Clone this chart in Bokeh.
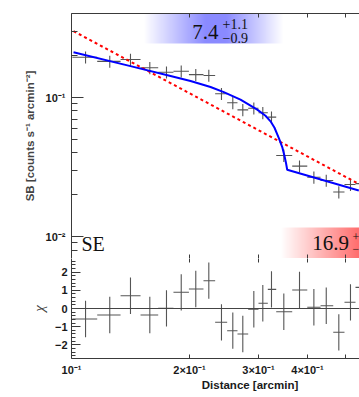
import numpy as np
from bokeh.plotting import figure
from bokeh.layouts import column
from bokeh.models import ColumnDataSource, FixedTicker, LogAxis, LinearAxis, Label, Span
from bokeh.embed import file_html
from bokeh.resources import INLINE

# ---------------- data ----------------
r_mid = [0.1086, 0.1252, 0.1414, 0.1584, 0.1747, 0.1905, 0.2075, 0.2240, 0.2413, 0.2579, 0.2735,
         0.2918, 0.3076, 0.3237, 0.3480, 0.3816, 0.4152, 0.4465, 0.4807, 0.5148, 0.5500]
r_lo = [0.1005, 0.1163, 0.1334, 0.1500, 0.1664, 0.1820, 0.1993, 0.2171, 0.2325, 0.2495, 0.2651,
        0.2823, 0.2999, 0.3168, 0.3328, 0.3656, 0.3994, 0.4318, 0.4652, 0.4970, 0.5302]
r_hi = [0.1163, 0.1334, 0.1500, 0.1664, 0.1820, 0.1993, 0.2171, 0.2325, 0.2495, 0.2651, 0.2823,
        0.2999, 0.3168, 0.3328, 0.3656, 0.3994, 0.4318, 0.4652, 0.4970, 0.5302, 0.5700]
sb = [0.195, 0.182, 0.1876, 0.1637, 0.152, 0.1545, 0.146, 0.144, 0.1065, 0.0916, 0.0815,
      0.0838, 0.0776, 0.0722, 0.0383, 0.0321, 0.0267, 0.0253, 0.0209, 0.0237, 0.0240]
sb_err = [0.0195, 0.0180, 0.0190, 0.0165, 0.0150, 0.0155, 0.0146, 0.0144, 0.0107, 0.0092, 0.0082,
          0.0084, 0.0078, 0.0072, 0.0039, 0.0032, 0.0027, 0.0025, 0.0021, 0.0024, 0.0024]
chi = [-0.58, -0.36, 0.70, -0.36, 0.01, 0.89, 1.07, 1.53, -0.76, -1.22, -1.40,
       -0.04, 0.29, 1.05, -0.18, 1.02, 0.07, 0.15, -1.31, 0.34, 1.16]
chi_err = [1.0, 1.0, 1.0, 1.0, 1.0, 1.0, 1.0, 1.0, 1.0, 1.0, 1.0,
           1.0, 1.0, 1.0, 1.0, 1.0, 1.0, 1.0, 1.0, 1.0, 1.0]
model_r = [0.1012, 0.1414, 0.1789, 0.2012, 0.2263, 0.2446, 0.2698, 0.2977, 0.3125, 0.3219,
           0.3295, 0.3380, 0.3448, 0.3494, 0.3525, 0.3550, 0.5406]
model_sb = [0.2118, 0.1682, 0.1428, 0.1314, 0.1190, 0.1094, 0.0966, 0.0818, 0.0739, 0.0674,
            0.0606, 0.0511, 0.0440, 0.0380, 0.0338, 0.0302, 0.0214]
pl_r = [0.1012, 0.5406]
pl_sb = [0.300, 0.0239]

x_ticks = [0.1, 0.2, 0.3, 0.4, 0.5]
x_tick_labels = ["10⁻¹", "2×10⁻¹", "3×10⁻¹", "4×10⁻¹", ""]
sb_ticks = [0.01, 0.1]
sb_tick_labels = ["10⁻²", "10⁻¹"]
sb_minor = [0.007, 0.008, 0.009, 0.02, 0.03, 0.04, 0.05, 0.06, 0.07, 0.08, 0.09, 0.2, 0.3, 0.4]
chi_ticks = [-2, -1, 0, 1, 2]
chi_tick_labels = ["−2", "−1", "0", "1", "2"]

# ---------------- layout constants ----------------
XMIN, XMAX = 0.1, 0.5428
Y1MIN, Y1MAX = 0.00695, 0.402
Y2MIN, Y2MAX = -2.75, 2.75
FW, FH1, FH2 = 288, 245, 100
LB = 71

AX = "#3a3a3a"
FONT = "Liberation Sans"
SERIF = "Liberation Serif"


def fx(px):
    lo, hi = np.log10(XMIN), np.log10(XMAX)
    return 10 ** (lo + np.asarray(px, dtype=float) / FW * (hi - lo))


def fy1(py):
    lo, hi = np.log10(Y1MIN), np.log10(Y1MAX)
    return 10 ** (hi - np.asarray(py, dtype=float) / FH1 * (hi - lo))


def style_axis(ax, tin, tmin=0, labels=True, line=True):
    ax.major_tick_in = tin
    ax.major_tick_out = 0
    ax.minor_tick_in = tmin
    ax.minor_tick_out = 0
    ax.axis_line_color = AX if line else None
    ax.axis_line_width = 1
    ax.major_tick_line_color = AX
    ax.minor_tick_line_color = AX
    if labels:
        ax.major_label_text_font = FONT
        ax.major_label_text_font_style = "bold"
        ax.major_label_text_font_size = "11px"
        ax.major_label_text_color = "#1a1a1a"
    else:
        ax.major_label_text_font_size = "0px"
        ax.major_label_text_color = None
        ax.major_label_standoff = 0
        ax.axis_label = None


def gradient(alpha, rgb):
    n = len(alpha)
    img = np.zeros((1, n), dtype=np.uint32)
    v = img.view(dtype=np.uint8).reshape((1, n, 4))
    v[0, :, 0] = rgb[0]
    v[0, :, 1] = rgb[1]
    v[0, :, 2] = rgb[2]
    v[0, :, 3] = np.clip(np.asarray(alpha) * 255, 0, 255).astype(np.uint8)
    return img


# ---------------- top panel ----------------
p1 = figure(x_axis_type="log", y_axis_type="log", x_range=(XMIN, XMAX), y_range=(Y1MIN, Y1MAX),
            frame_width=FW, frame_height=FH1, min_border_left=LB, min_border_right=0,
            min_border_top=13, min_border_bottom=0, x_axis_location=None, y_axis_location=None,
            output_backend="svg", toolbar_location=None)
p1.outline_line_color = None
p1.xgrid.visible = False
p1.ygrid.visible = False

# gradient boxes behind the fitted jump values
bx = np.arange(72, 212) + 0.5
balpha = np.interp(bx, [72, 134, 155, 212], [0.0, 0.46, 0.46, 0.0])
p1.image_rgba(image=[gradient(balpha, (0, 0, 255))], x=float(fx(72)), y=float(fy1(30)),
              dw=float(fx(212) - fx(72)), dh=float(fy1(0) - fy1(30)))
rx = np.arange(209, 288) + 0.5
ralpha = np.interp(rx, [209, 288], [0.0, 0.58])
p1.image_rgba(image=[gradient(ralpha, (255, 0, 0))], x=float(fx(209)), y=float(fy1(245)),
              dw=float(fx(288) - fx(209)), dh=float(fy1(214) - fy1(245)))

src1 = ColumnDataSource(dict(x=r_mid, xl=r_lo, xh=r_hi, y=sb,
                             yl=np.array(sb) - np.array(sb_err), yh=np.array(sb) + np.array(sb_err)))
p1.segment(x0="xl", y0="y", x1="xh", y1="y", source=src1, line_color="#555555", line_width=1.1)
p1.segment(x0="x", y0="yl", x1="x", y1="yh", source=src1, line_color="#555555", line_width=1.1)
p1.line(pl_r, pl_sb, line_color="#ff0000", line_width=2, line_dash="3 3")
p1.line(model_r, model_sb, line_color="#0000ff", line_width=2)

ly = LogAxis(ticker=FixedTicker(ticks=sb_ticks, minor_ticks=sb_minor),
             major_label_overrides=dict(zip(sb_ticks, sb_tick_labels)))
style_axis(ly, 12, 6)
ly.major_label_standoff = 6
ly.axis_label = "SB [counts s⁻¹ arcmin⁻²]"
ly.axis_label_text_font = FONT
ly.axis_label_text_font_style = "bold"
ly.axis_label_text_font_size = "11.5px"
ly.axis_label_standoff = 7
p1.add_layout(ly, "left")

for loc in ("above", "below"):
    a = LogAxis(ticker=FixedTicker(ticks=x_ticks[1:], minor_ticks=[]))
    style_axis(a, 4, 0, labels=False)
    p1.add_layout(a, loc)

p1.add_layout(Label(x=float(fx(120.7)), y=FH1 - 18, y_units="screen", text="7.4",
                    text_font=SERIF, text_font_size="21px", text_color="#111111",
                    text_baseline="alphabetic"))
p1.add_layout(Label(x=float(fx(151)), y=FH1 - 10, y_units="screen", text="+1.1",
                    text_font=SERIF, text_font_size="14px", text_color="#111111",
                    text_baseline="middle"))
p1.add_layout(Label(x=float(fx(151)), y=FH1 - 24, y_units="screen", text="−0.9",
                    text_font=SERIF, text_font_size="14px", text_color="#111111",
                    text_baseline="middle"))
p1.add_layout(Label(x=float(fx(240.7)), y=FH1 - 229.5, y_units="screen", text="16.9",
                    text_font=SERIF, text_font_size="21px", text_color="#111111",
                    text_baseline="alphabetic"))
p1.add_layout(Label(x=float(fx(281)), y=FH1 - 223, y_units="screen", text="+",
                    text_font=SERIF, text_font_size="12px", text_color="#111111",
                    text_baseline="middle"))
p1.add_layout(Label(x=float(fx(281)), y=FH1 - 235, y_units="screen", text="−",
                    text_font=SERIF, text_font_size="12px", text_color="#111111",
                    text_baseline="middle"))
p1.add_layout(Label(x=float(fx(10)), y=FH1 - 230, y_units="screen", text="SE",
                    text_font=SERIF, text_font_size="20px", text_color="#111111",
                    text_baseline="alphabetic"))

# ---------------- residual panel ----------------
p2 = figure(x_axis_type="log", x_range=p1.x_range, y_range=(Y2MIN, Y2MAX),
            frame_width=FW, frame_height=FH2, min_border_left=LB, min_border_right=0,
            min_border_top=0, min_border_bottom=30, x_axis_location=None, y_axis_location=None,
            output_backend="svg", toolbar_location=None)
p2.outline_line_color = None
p2.xgrid.visible = False
p2.ygrid.visible = False

p2.add_layout(Span(location=0, dimension="width", line_color="#444444", line_width=1))
src2 = ColumnDataSource(dict(x=r_mid, xl=r_lo, xh=r_hi, y=chi,
                             yl=np.array(chi) - np.array(chi_err), yh=np.array(chi) + np.array(chi_err)))
p2.segment(x0="xl", y0="y", x1="xh", y1="y", source=src2, line_color="#555555", line_width=1.1)
p2.segment(x0="x", y0="yl", x1="x", y1="yh", source=src2, line_color="#555555", line_width=1.1)

chi_minor = [round(v, 1) for v in np.arange(-2.6, 2.61, 0.2) if abs(v - round(v)) > 1e-6]
lc = LinearAxis(ticker=FixedTicker(ticks=chi_ticks, minor_ticks=chi_minor),
                major_label_overrides=dict(zip(chi_ticks, chi_tick_labels)))
style_axis(lc, 9, 4)
lc.major_label_standoff = 4
lc.axis_label = "χ"
lc.axis_label_text_font = SERIF
lc.axis_label_text_font_style = "italic"
lc.axis_label_text_font_size = "15px"
lc.axis_label_standoff = 5
p2.add_layout(lc, "left")

top2 = LogAxis(ticker=FixedTicker(ticks=x_ticks[1:], minor_ticks=[]))
style_axis(top2, 4, 0, labels=False, line=False)
p2.add_layout(top2, "above")

pad = "\u2003" * 6
bx2 = LogAxis(ticker=FixedTicker(ticks=x_ticks, minor_ticks=[]),
              major_label_overrides=dict(zip(x_ticks, x_tick_labels)))
style_axis(bx2, 4, 0)
bx2.major_label_standoff = 5
bx2.axis_label = pad + "Distance [arcmin]"
bx2.axis_label_text_font = FONT
bx2.axis_label_text_font_style = "bold"
bx2.axis_label_text_font_size = "11.5px"
bx2.axis_label_text_color = "#1a1a1a"
bx2.axis_label_standoff = 0
p2.add_layout(bx2, "below")

layout = column(p1, p2)
open("out.html", "w").write(file_html(layout, INLINE))
